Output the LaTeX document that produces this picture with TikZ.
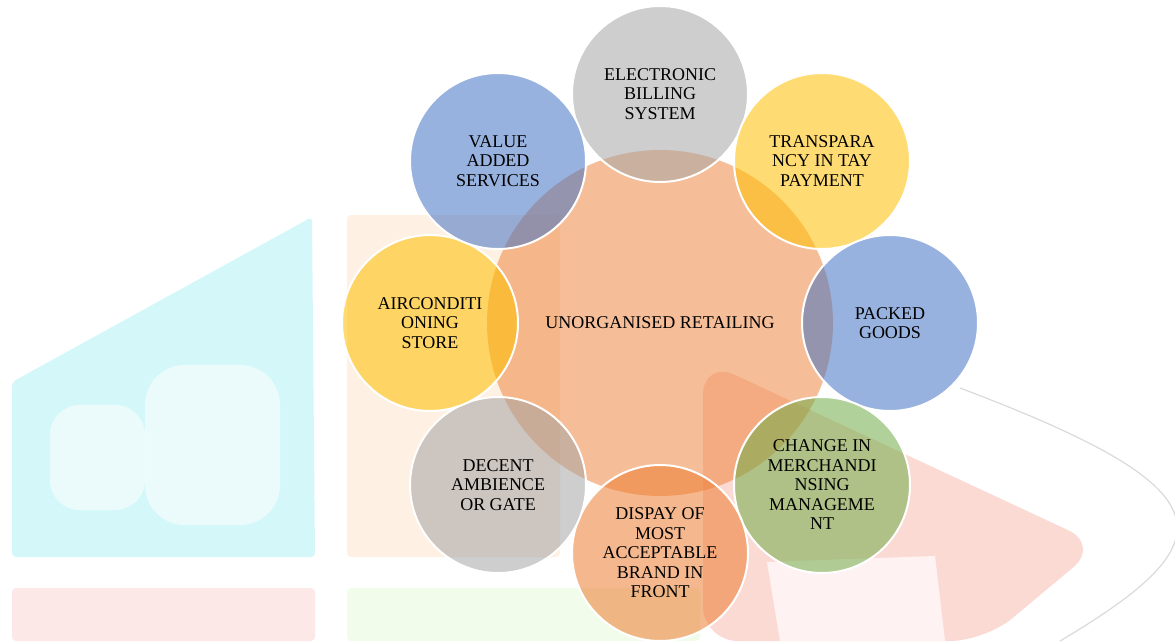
\documentclass[tikz,border=0pt]{standalone}
\usepackage{fontspec}
\setmainfont{Liberation Serif}
\begin{document}
\begin{tikzpicture}[x=1pt,y=-1pt,
  sat/.style={circle,minimum size=176pt,inner sep=0pt,draw=white,line width=2pt,fill opacity=0.55,text opacity=1,align=center,font=\fontsize{18}{19.5}\selectfont},
  hub/.style={circle,minimum size=346pt,inner sep=0pt,fill=hubc,fill opacity=0.5,text opacity=1,align=center,font=\fontsize{18}{19.5}\selectfont},
  wm/.style={draw=none,rounded corners=4pt}]
\definecolor{hubc}{HTML}{ED7D31}
\definecolor{gry}{HTML}{A5A5A5}
\definecolor{ylw}{HTML}{FFC000}
\definecolor{blu}{HTML}{4472C4}
\definecolor{grn}{HTML}{70AD47}
\definecolor{org}{HTML}{ED7D31}
\useasboundingbox (0,0) rectangle (1175,641);
% faint watermark
\fill[wm,fill={rgb,255:red,212;green,248;blue,250}] (12,382) -- (312,217) -- (315,557) -- (12,557) -- cycle;
\fill[white,fill opacity=0.55,rounded corners=30pt] (50,405) rectangle (145,510);
\fill[white,fill opacity=0.55,rounded corners=40pt] (145,365) rectangle (280,525);
\fill[wm,fill={rgb,255:red,254;green,240;blue,226}] (347,215) rectangle (560,557);
\fill[wm,fill={rgb,255:red,253;green,232;blue,232}] (12,588) rectangle (315,641);
\fill[wm,fill={rgb,255:red,242;green,252;blue,235}] (347,588) rectangle (700,641);
\fill[fill={rgb,255:red,252;green,218;blue,212},rounded corners=35pt] (703,360) -- (1100,545) -- (985,641) -- (703,641) -- cycle;
\fill[white,fill opacity=0.7] (767,562) -- (935,556) -- (945,641) -- (780,641) -- cycle;
\draw[line width=1.2pt,draw={rgb,255:red,218;green,218;blue,218}] (960,388) .. controls (1230,490) and (1230,540) .. (1060,641);
% diagram
\node[hub] (hub) at (660,323) {UNORGANISED RETAILING};
\node[sat,fill=gry] (s1) at (660,94) {ELECTRONIC\\BILLING\\SYSTEM};
\node[sat,fill=ylw] (s2) at (822,161) {TRANSPARA\\NCY IN TAY\\PAYMENT};
\node[sat,fill=blu] (s3) at (890,323) {PACKED\\GOODS};
\node[sat,fill=grn] (s4) at (822,485) {CHANGE IN\\MERCHANDI\\NSING\\MANAGEME\\NT};
\node[sat,fill=org] (s5) at (660,553) {DISPAY OF\\MOST\\ACCEPTABLE\\BRAND IN\\FRONT};
\node[sat,fill=gry] (s6) at (498,485) {DECENT\\AMBIENCE\\OR GATE};
\node[sat,fill=ylw] (s7) at (430,323) {AIRCONDITI\\ONING\\STORE};
\node[sat,fill=blu] (s8) at (498,161) {VALUE\\ADDED\\SERVICES};
\end{tikzpicture}
\end{document}
